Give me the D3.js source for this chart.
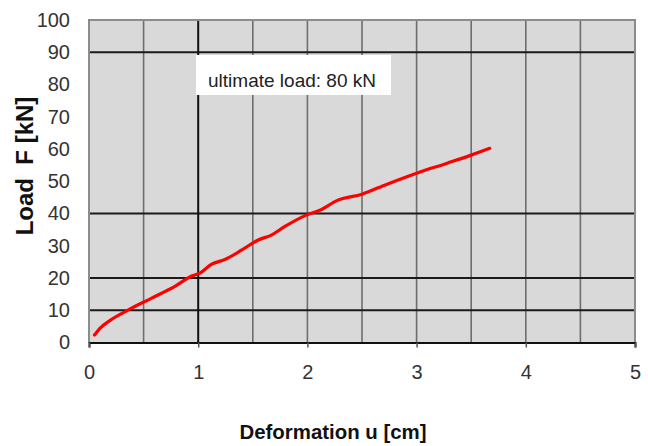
<!DOCTYPE html>
<html>
<head>
<meta charset="utf-8">
<script src="https://cdn.jsdelivr.net/npm/d3@7"></script>
<style>
  html, body { margin: 0; padding: 0; background: #fff; }
  svg { display: block; }
</style>
</head>
<body>
<svg id="chart" width="648" height="446"></svg>
<script>
// ---- data ----
const deformation = [0.05, 0.10, 0.20, 0.36, 0.57, 0.79, 0.94, 1.02, 1.12, 1.25, 1.40, 1.55, 1.67, 1.79, 1.99, 2.12, 2.27, 2.50, 2.73, 3.00, 3.28, 3.50, 3.67];
const load        = [2.3,  4.4,  7.0,  10.1, 13.7, 17.5, 20.6, 21.6, 24.2, 25.8, 28.7, 31.8, 33.3, 35.9, 39.5, 41.1, 44.0, 46.0, 49.1, 52.5, 55.6, 58.1, 60.2];
const xTicks = [0, 1, 2, 3, 4, 5];
const yTicks = [0, 10, 20, 30, 40, 50, 60, 70, 80, 90, 100];
const xGridMinor = [0.5, 1.5, 2, 2.5, 3, 3.5, 4, 4.5];
const xGridMajor = [1];
const yGrid = [10, 20, 40, 90];
const annotationText = "ultimate load: 80 kN";
const xLabel = "Deformation u [cm]";
const yLabel = "Load  F [kN]";

// ---- layout ----
const svg = d3.select("#chart");
const L = 89, R = 635, T = 20, B = 342.5;
const x = d3.scaleLinear().domain([0, 5]).range([L, R]);
const y = d3.scaleLinear().domain([0, 100]).range([B, T]);

// plot background
svg.append("rect").attr("x", L).attr("y", T).attr("width", R - L).attr("height", B - T)
  .attr("fill", "#d9d9d9");

// vertical grid (minor gray)
svg.append("g").selectAll("line").data(xGridMinor).join("line")
  .attr("x1", d => x(d)).attr("x2", d => x(d)).attr("y1", T).attr("y2", B)
  .attr("stroke", "#6e6e6e").attr("stroke-width", 1.6);
// horizontal grid (black)
svg.append("g").selectAll("line").data(yGrid).join("line")
  .attr("x1", L).attr("x2", R).attr("y1", d => y(d)).attr("y2", d => y(d))
  .attr("stroke", "#1a1a1a").attr("stroke-width", 1.8);
// major vertical
svg.append("g").selectAll("line").data(xGridMajor).join("line")
  .attr("x1", d => x(d)).attr("x2", d => x(d)).attr("y1", T).attr("y2", B)
  .attr("stroke", "#111").attr("stroke-width", 2);

// border top/right/left gray
svg.append("path")
  .attr("d", `M${L},${B}V${T}H${R}V${B}`)
  .attr("fill", "none").attr("stroke", "#8c8c8c").attr("stroke-width", 2);

// annotation box
const ax0 = 196, ay0 = 55, aw = 195, ah = 40;
svg.append("rect").attr("x", ax0).attr("y", ay0).attr("width", aw).attr("height", ah).attr("fill", "#fff");
svg.append("text").attr("x", 208).attr("y", 87)
  .attr("font-family", "'Liberation Sans', Arial, sans-serif").attr("font-size", 19)
  .attr("fill", "#222")
  .attr("textLength", 168).attr("lengthAdjust", "spacingAndGlyphs")
  .text(annotationText);

// x axis
const xAxis = d3.axisBottom(x).tickValues(xTicks).tickSize(5).tickPadding(17).tickFormat(d3.format("d"));
const gx = svg.append("g").attr("transform", `translate(0,${B})`).call(xAxis);
gx.select(".domain").attr("stroke", "#111").attr("stroke-width", 2);
gx.selectAll(".tick line").attr("stroke", "#555").attr("stroke-width", 1.5);
gx.selectAll("text").attr("font-family", "'Liberation Sans', Arial, sans-serif").attr("font-size", 20).attr("fill", "#333");

// y axis
const yAxis = d3.axisLeft(y).tickValues(yTicks).tickSize(0).tickPadding(19).tickFormat(d3.format("d"));
const gy = svg.append("g").attr("transform", `translate(${L},0)`).call(yAxis);
gy.select(".domain").remove();
gy.selectAll("text").attr("font-family", "'Liberation Sans', Arial, sans-serif").attr("font-size", 20).attr("fill", "#333");

// line
const pts = deformation.map((d, i) => [d, load[i]]);
svg.append("path").datum(pts)
  .attr("d", d3.line().x(d => x(d[0])).y(d => y(d[1])).curve(d3.curveMonotoneX))
  .attr("fill", "none").attr("stroke", "#ff0000").attr("stroke-width", 3.2)
  .attr("stroke-linecap", "round").attr("stroke-linejoin", "round");

// axis labels
svg.append("text").attr("x", 333).attr("y", 439).attr("text-anchor", "middle")
  .attr("font-family", "'Liberation Sans', Arial, sans-serif").attr("font-weight", "bold")
  .attr("font-size", 21).attr("fill", "#111")
  .attr("textLength", 187).attr("lengthAdjust", "spacingAndGlyphs")
  .text(xLabel);

svg.append("text").attr("transform", "translate(33,166) rotate(-90)").attr("text-anchor", "middle")
  .attr("font-family", "'Liberation Sans', Arial, sans-serif").attr("font-weight", "bold")
  .attr("font-size", 24).attr("fill", "#111")
  .attr("xml:space", "preserve")
  .style("white-space", "pre")
  .text(yLabel);
</script>
</body>
</html>
